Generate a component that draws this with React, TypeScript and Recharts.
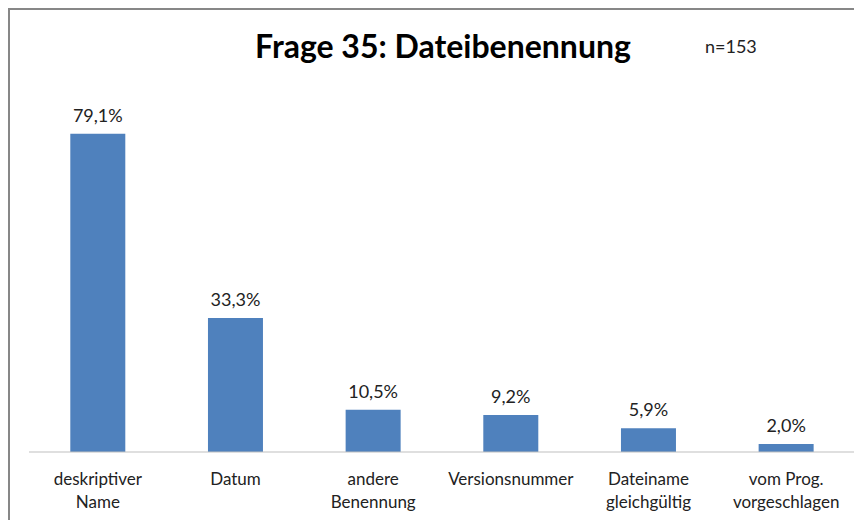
import { BarChart, Bar, XAxis, YAxis, LabelList } from 'recharts';

const categories = [
  'deskriptiver\nName',
  'Datum',
  'andere\nBenennung',
  'Versionsnummer',
  'Dateiname\ngleichgültig',
  'vom Prog.\nvorgeschlagen',
];
const percentages = [79.1, 33.3, 10.5, 9.2, 5.9, 2.0];

const data = categories.map((name, i) => ({ name, value: percentages[i] }));

const FONT = 'Lato, "Open Sans", sans-serif';

const CategoryTick = (props: any) => {
  const { x, y, payload } = props;
  const lines = String(payload.value).split('\n');
  return (
    <text x={x} y={y + 25} textAnchor="middle" fill="#222" fontSize={17} fontFamily={FONT}>
      {lines.map((line: string, i: number) => (
        <tspan key={i} x={x} dy={i === 0 ? 0 : 23}>
          {line}
        </tspan>
      ))}
    </text>
  );
};

export default function App() {
  return (
    <div
      style={{
        position: 'relative',
        width: 852,
        height: 510,
        borderTop: '2px solid #878787',
        borderLeft: '2px solid #878787',
        background: '#fff',
      }}
    >
      <div
        style={{
          position: 'absolute',
          left: 0,
          width: 866,
          top: 16,
          textAlign: 'center',
          fontFamily: FONT,
          fontWeight: 700,
          fontSize: 32,
          color: '#000',
          lineHeight: '40px',
        }}
      >
        Frage 35: Dateibenennung
      </div>
      <div
        style={{
          position: 'absolute',
          left: 695,
          top: 25,
          fontFamily: FONT,
          fontSize: 18,
          color: '#222',
        }}
      >
        n=153
      </div>
      <BarChart
        width={852}
        height={510}
        data={data}
        margin={{ top: 80, right: 7, left: 19, bottom: 0 }}
        barCategoryGap="30%"
      >
        <XAxis
          dataKey="name"
          height={68}
          interval={0}
          stroke="#bfbfbf"
          tickLine={false}
          tick={<CategoryTick />}
        />
        <YAxis hide domain={[0, 90]} />
        <Bar dataKey="value" fill="#4f81bd" isAnimationActive={false}>
          <LabelList
            dataKey="value"
            position="top"
            offset={12}
            fill="#222"
            fontSize={18}
            fontFamily={FONT}
            formatter={(v: any) => Number(v).toFixed(1).replace('.', ',') + '%'}
          />
        </Bar>
      </BarChart>
    </div>
  );
}
